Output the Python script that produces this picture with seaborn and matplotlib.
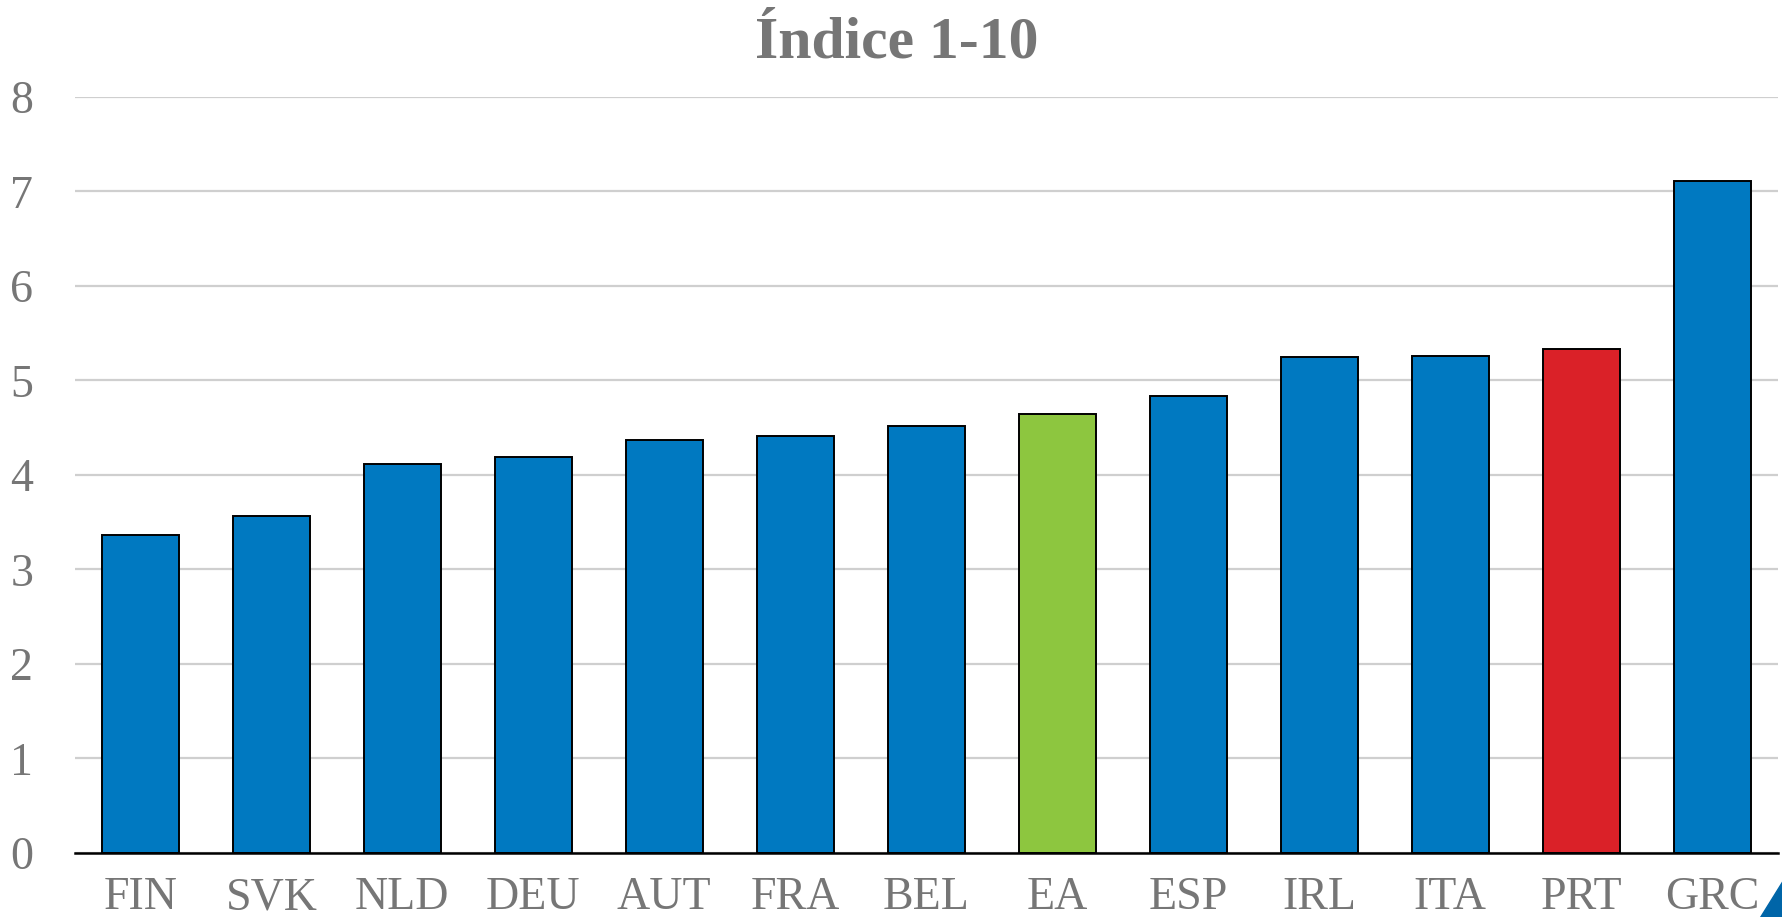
import matplotlib
matplotlib.use("Agg")
import matplotlib.pyplot as plt
import seaborn as sns
import pandas as pd
from matplotlib.patches import Polygon

countries = ["FIN", "SVK", "NLD", "DEU", "AUT", "FRA", "BEL", "EA", "ESP", "IRL", "ITA", "PRT", "GRC"]
values = [3.37, 3.57, 4.12, 4.19, 4.37, 4.41, 4.52, 4.65, 4.84, 5.25, 5.26, 5.33, 7.11]
highlight = {"EA": "#8DC63F", "PRT": "#DA2128"}
base_color = "#0079C1"
yticks = [0, 1, 2, 3, 4, 5, 6, 7, 8]
title = "Índice 1-10"

sns.set_theme(style="white")
plt.rcParams["font.family"] = ["Liberation Serif", "DejaVu Serif"]

df = pd.DataFrame({"country": countries, "value": values})
palette = {c: highlight.get(c, base_color) for c in countries}

fig = plt.figure(figsize=(17.83, 9.17), dpi=100)
ax = fig.add_axes([0.042, 0.0698, 0.955, 0.8245])

sns.barplot(data=df, x="country", y="value", hue="country", palette=palette,
            legend=False, width=0.59, edgecolor="black", linewidth=1.4,
            saturation=1, ax=ax, zorder=3)

text_color = "#767676"
ax.set_xlim(-0.5, len(countries) - 0.5)
ax.set_ylim(0, 8)
ax.set_yticks(yticks)
ax.set_yticklabels([str(t) for t in yticks])
ax.yaxis.grid(True, color="#cfcfcf", linewidth=1.6, zorder=0)
ax.set_axisbelow(True)
ax.set_xlabel("")
ax.set_ylabel("")
for s in ["top", "right", "left"]:
    ax.spines[s].set_visible(False)
ax.spines["bottom"].set_color("black")
ax.spines["bottom"].set_linewidth(1.8)
ax.spines["bottom"].set_zorder(5)
ax.tick_params(axis="both", length=0, labelsize=33, labelcolor=text_color)
ax.tick_params(axis="y", pad=30)
ax.tick_params(axis="x", pad=17)

fig.text(0.503, 0.953, title, ha="center", va="center", fontsize=43,
         fontweight="bold", color=text_color)

tri = Polygon([[1760 / 1783, 0], [1, 0], [1, 37 / 917]], closed=True,
              transform=fig.transFigure, color="#0065A8", clip_on=False)
fig.patches.append(tri)

fig.savefig("out.png", dpi=100)
